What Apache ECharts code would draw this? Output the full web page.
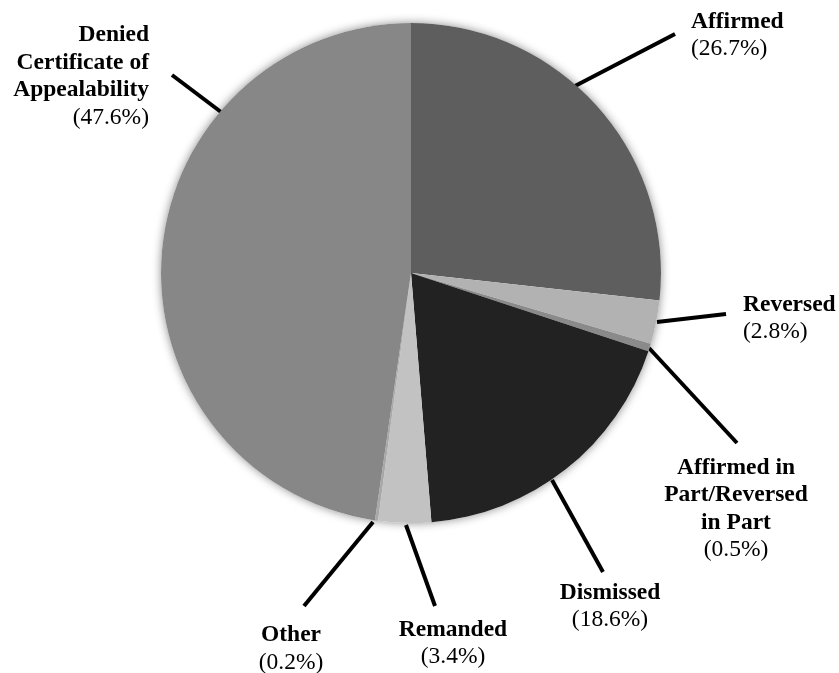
<!DOCTYPE html>
<html>
<head>
<meta charset="utf-8">
<script src="https://cdn.jsdelivr.net/npm/echarts@6/dist/echarts.min.js"></script>
<style>
html,body{margin:0;padding:0;background:#fff;}
#chart{width:839px;height:673px;}
</style>
</head>
<body>
<div id="chart"></div>
<script>
const categories = ['Affirmed', 'Reversed', 'Affirmed in Part/Reversed in Part', 'Dismissed', 'Remanded', 'Other', 'Denied Certificate of Appealability'];
const labelNames = ['Affirmed', 'Reversed', 'Affirmed in\nPart/Reversed\nin Part', 'Dismissed', 'Remanded', 'Other', 'Denied\nCertificate of\nAppealability'];
const values = [26.7, 2.8, 0.5, 18.6, 3.4, 0.2, 47.6];
const colors = ['#5e5e5e', '#b2b2b2', '#8a8a8a', '#222222', '#c2c2c2', '#a8a8a8', '#878787'];

// label placement (layout only): label anchor, alignment and leader line ends
const labelPlacement = [
  { x: 691, y: 35.5, align: 'left',   line: [[575, 86], [675, 34]] },
  { x: 743, y: 318.5, align: 'left',  line: [[657, 322], [726, 314]] },
  { x: 736, y: 509, align: 'center',  line: [[649, 348], [737, 443]] },
  { x: 610, y: 606.5, align: 'center', line: [[552, 480], [603, 572]] },
  { x: 453, y: 643.5, align: 'center', line: [[406, 525], [435, 606]] },
  { x: 291, y: 649, align: 'center',  line: [[373, 522], [304, 606]] },
  { x: 149, y: 76.5, align: 'right',  line: [[221, 112], [172, 75]] }
];

const chart = echarts.init(document.getElementById('chart'), null, { renderer: 'canvas' });
const fontFamily = '"Liberation Serif", "Times New Roman", serif';
const leaderStyle = { color: '#000', width: 4 };

const data = categories.map((c, i) => ({
  name: c,
  value: values[i],
  itemStyle: { color: colors[i] },
  label: { align: labelPlacement[i].align },
  labelLine: { lineStyle: leaderStyle }
}));

chart.setOption({
  backgroundColor: '#ffffff',
  animation: false,
  series: [
    {
      type: 'pie',
      silent: true,
      center: [411, 273],
      radius: 250,
      z: 1,
      label: { show: false },
      labelLine: { show: false },
      itemStyle: { color: '#ffffff', shadowBlur: 10, shadowColor: 'rgba(0,0,0,0.45)' },
      data: [{ value: 1, name: 'bg' }]
    },
    {
      type: 'pie',
      z: 2,
      center: [411, 273],
      radius: 250,
      startAngle: 90,
      clockwise: true,
      avoidLabelOverlap: false,
      itemStyle: { borderWidth: 0 },
      label: {
        show: true,
        position: 'outside',
        color: '#000',
        fontFamily: fontFamily,
        formatter: function (p) {
          return '{b|' + labelNames[p.dataIndex] + '}\n{p|(' + values[p.dataIndex].toFixed(1) + '%)}';
        },
        rich: {
          b: { fontFamily: fontFamily, fontSize: 23.5, fontWeight: 'bold', lineHeight: 27.5, color: '#000' },
          p: { fontFamily: fontFamily, fontSize: 23.5, fontWeight: 'normal', lineHeight: 27.5, color: '#000' }
        }
      },
      labelLine: {
        show: true,
        length: 20,
        length2: 0,
        smooth: false,
        lineStyle: leaderStyle
      },
      labelLayout: function (params) {
        const pl = labelPlacement[params.dataIndex];
        return {
          x: pl.x,
          y: pl.y,
          align: pl.align,
          verticalAlign: 'middle',
          labelLinePoints: pl.line
        };
      },
      emphasis: { disabled: true },
      data: data
    }
  ]
});
</script>
</body>
</html>
